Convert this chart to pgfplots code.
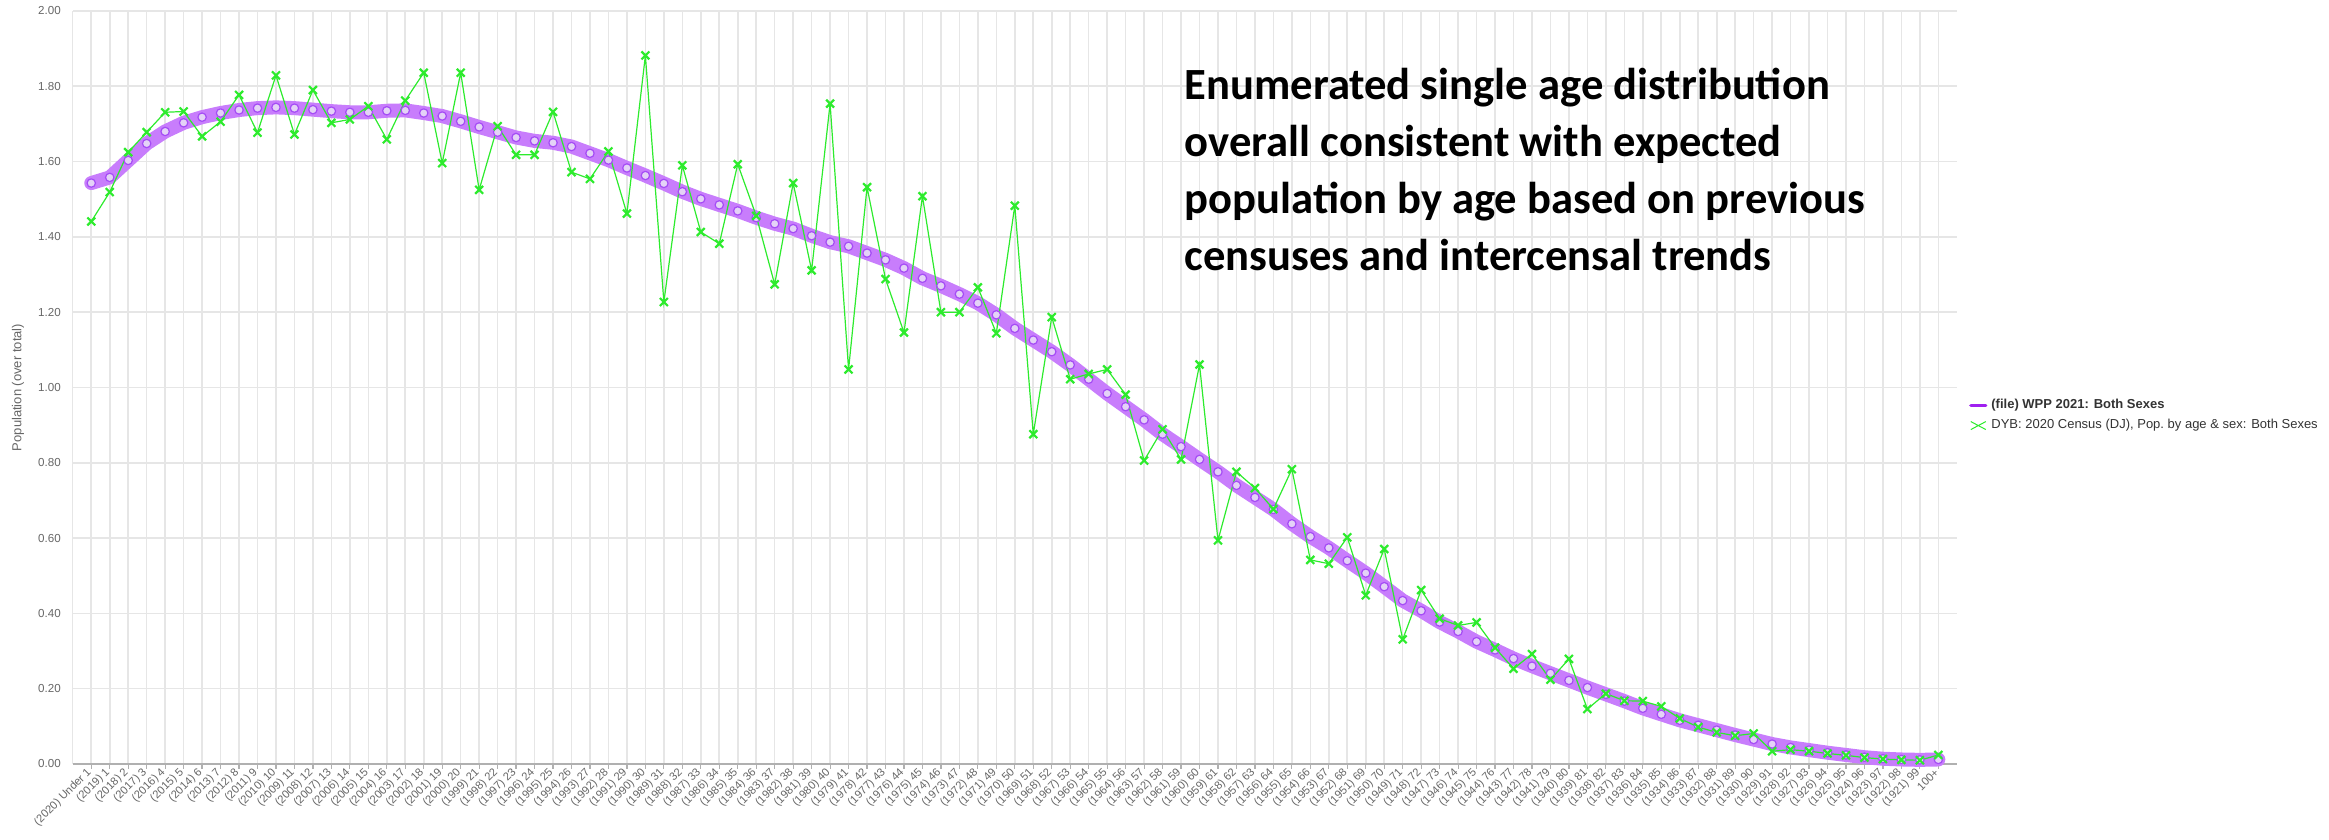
\documentclass[border=0pt]{standalone}
\usepackage{fontspec}
\setmainfont{Liberation Sans}
\newfontfamily\calibri{Carlito}
\usepackage{pgfplots}
\usepackage{pgfplotstable}
\pgfplotsset{compat=1.18}
\definecolor{gridgray}{HTML}{E6E6E6}
\definecolor{axisgray}{HTML}{B0B0B0}
\definecolor{tickgray}{HTML}{666666}
\definecolor{band}{HTML}{C87DFC}
\definecolor{ringpurple}{HTML}{A54CF5}
\definecolor{ringfill}{HTML}{E4D2F7}
\definecolor{legpurple}{HTML}{A020F0}
\definecolor{dybgreen}{HTML}{2DEB2D}
\definecolor{legtext}{HTML}{333333}

\pgfplotstableread{
i wpp dyb
0 1.543 1.441
1 1.558 1.519
2 1.603 1.625
3 1.648 1.678
4 1.680 1.731
5 1.703 1.733
6 1.718 1.667
7 1.729 1.706
8 1.737 1.777
9 1.742 1.677
10 1.744 1.829
11 1.742 1.672
12 1.738 1.790
13 1.734 1.703
14 1.731 1.712
15 1.731 1.747
16 1.735 1.659
17 1.736 1.762
18 1.729 1.836
19 1.721 1.596
20 1.707 1.836
21 1.692 1.525
22 1.678 1.694
23 1.664 1.618
24 1.655 1.618
25 1.650 1.732
26 1.640 1.572
27 1.622 1.554
28 1.604 1.627
29 1.583 1.462
30 1.563 1.882
31 1.542 1.227
32 1.520 1.590
33 1.501 1.413
34 1.485 1.382
35 1.469 1.593
36 1.451 1.456
37 1.435 1.274
38 1.422 1.543
39 1.403 1.311
40 1.386 1.754
41 1.375 1.048
42 1.357 1.532
43 1.339 1.288
44 1.317 1.146
45 1.290 1.508
46 1.270 1.200
47 1.248 1.200
48 1.224 1.266
49 1.193 1.144
50 1.157 1.483
51 1.126 0.876
52 1.095 1.187
53 1.060 1.022
54 1.022 1.036
55 0.984 1.048
56 0.949 0.981
57 0.914 0.806
58 0.876 0.889
59 0.843 0.809
60 0.809 1.061
61 0.776 0.594
62 0.740 0.776
63 0.708 0.733
64 0.676 0.677
65 0.638 0.783
66 0.604 0.542
67 0.574 0.532
68 0.540 0.602
69 0.507 0.448
70 0.471 0.571
71 0.434 0.331
72 0.407 0.462
73 0.377 0.386
74 0.352 0.368
75 0.325 0.376
76 0.303 0.309
77 0.280 0.253
78 0.260 0.292
79 0.241 0.224
80 0.222 0.279
81 0.203 0.146
82 0.185 0.187
83 0.167 0.168
84 0.148 0.167
85 0.132 0.153
86 0.116 0.121
87 0.103 0.098
88 0.090 0.084
89 0.077 0.075
90 0.065 0.081
91 0.053 0.034
92 0.044 0.038
93 0.037 0.034
94 0.030 0.028
95 0.024 0.023
96 0.018 0.017
97 0.014 0.013
98 0.012 0.011
99 0.011 0.010
100 0.012 0.024
}\agedata

\begin{document}
\begin{tikzpicture}
\begin{axis}[
  at={(0,0)}, anchor=south west,
  scale only axis, width=942pt, height=376.5pt,
  xmin=-1, xmax=101, ymin=0, ymax=2,
  clip=false,
  axis x line*=bottom, axis y line*=left,
  x axis line style={draw=axisgray, line width=0.9pt},
  y axis line style={draw=gridgray, line width=0.7pt},
  xtick={0,...,100},
  xticklabels={(2020) Under 1,(2019) 1,(2018) 2,(2017) 3,(2016) 4,(2015) 5,(2014) 6,(2013) 7,(2012) 8,(2011) 9,(2010) 10,(2009) 11,(2008) 12,(2007) 13,(2006) 14,(2005) 15,(2004) 16,(2003) 17,(2002) 18,(2001) 19,(2000) 20,(1999) 21,(1998) 22,(1997) 23,(1996) 24,(1995) 25,(1994) 26,(1993) 27,(1992) 28,(1991) 29,(1990) 30,(1989) 31,(1988) 32,(1987) 33,(1986) 34,(1985) 35,(1984) 36,(1983) 37,(1982) 38,(1981) 39,(1980) 40,(1979) 41,(1978) 42,(1977) 43,(1976) 44,(1975) 45,(1974) 46,(1973) 47,(1972) 48,(1971) 49,(1970) 50,(1969) 51,(1968) 52,(1967) 53,(1966) 54,(1965) 55,(1964) 56,(1963) 57,(1962) 58,(1961) 59,(1960) 60,(1959) 61,(1958) 62,(1957) 63,(1956) 64,(1955) 65,(1954) 66,(1953) 67,(1952) 68,(1951) 69,(1950) 70,(1949) 71,(1948) 72,(1947) 73,(1946) 74,(1945) 75,(1944) 76,(1943) 77,(1942) 78,(1941) 79,(1940) 80,(1939) 81,(1938) 82,(1937) 83,(1936) 84,(1935) 85,(1934) 86,(1933) 87,(1932) 88,(1931) 89,(1930) 90,(1929) 91,(1928) 92,(1927) 93,(1926) 94,(1925) 95,(1924) 96,(1923) 97,(1922) 98,(1921) 99,100+},
  ytick={0,0.2,0.4,0.6,0.8,1.0,1.2,1.4,1.6,1.8,2.0},
  /pgf/number format/assume math mode=true,
  yticklabel style={/pgf/number format/fixed, /pgf/number format/fixed zerofill, /pgf/number format/precision=2,
     font=\fontsize{5.8}{6}\selectfont, color=tickgray},
  xticklabel style={rotate=45, anchor=east, font=\fontsize{5.6}{6}\selectfont, color=tickgray, inner sep=1pt},
  tick align=outside, major tick length=2.5pt,
  xtick style={draw=axisgray, line width=0.6pt},
  ytick style={draw=none},
  xmajorgrids, ymajorgrids,
  major grid style={draw=gridgray, line width=0.8pt},
  every axis y label/.style={at={(rel axis cs:0,0.5)}, xshift=-27.4pt, rotate=90, anchor=center,
     font=\fontsize{6.5}{7}\selectfont, color=tickgray},
  ylabel={Population (over total)},
  legend style={draw=none, fill=none, at={(1,0.463)}, anchor=west, xshift=6pt,
     font=\fontsize{6.5}{7.5}\selectfont, text=legtext, row sep=0pt, inner sep=0pt,
     cells={anchor=west}},
  legend cell align=left,
]
\addplot[color=band, line width=7pt, line join=round, line cap=round,
  mark=*, mark size=2.1pt, mark options={draw=ringpurple, fill=ringfill, line width=0.6pt},
  legend image code/.code={\draw[line width=1.6pt, color=legpurple] (0pt,0pt) -- (7.5pt,0pt);}]
  table[x=i, y=wpp] {\agedata};
\addlegendentry{\textbf{(file) WPP 2021: Both Sexes}}
\addplot[color=dybgreen, line width=0.6pt,
  mark=x, mark size=2.8pt, mark options={line width=1.1pt},
  legend image code/.code={\draw[line width=0.5pt, color=dybgreen] (0pt,-2pt) -- (7.5pt,2pt) (0pt,2pt) -- (7.5pt,-2pt);}]
  table[x=i, y=dyb] {\agedata};
\addlegendentry{DYB: 2020 Census (DJ), Pop.\ by age \& sex: Both Sexes}
\node[anchor=north west, inner sep=0pt, align=left, text=black,
  font=\calibri\bfseries\fontsize{22.3}{28.5}\selectfont]
  at (rel axis cs:0.590,0.924)
  {Enumerated single age distribution\\overall consistent with expected\\population by age based on previous\\censuses and intercensal trends};
\end{axis}
\pgfresetboundingbox
\path[use as bounding box] (-36.4pt,-38pt) rectangle (1128.1pt,382pt);
\end{tikzpicture}
\end{document}
